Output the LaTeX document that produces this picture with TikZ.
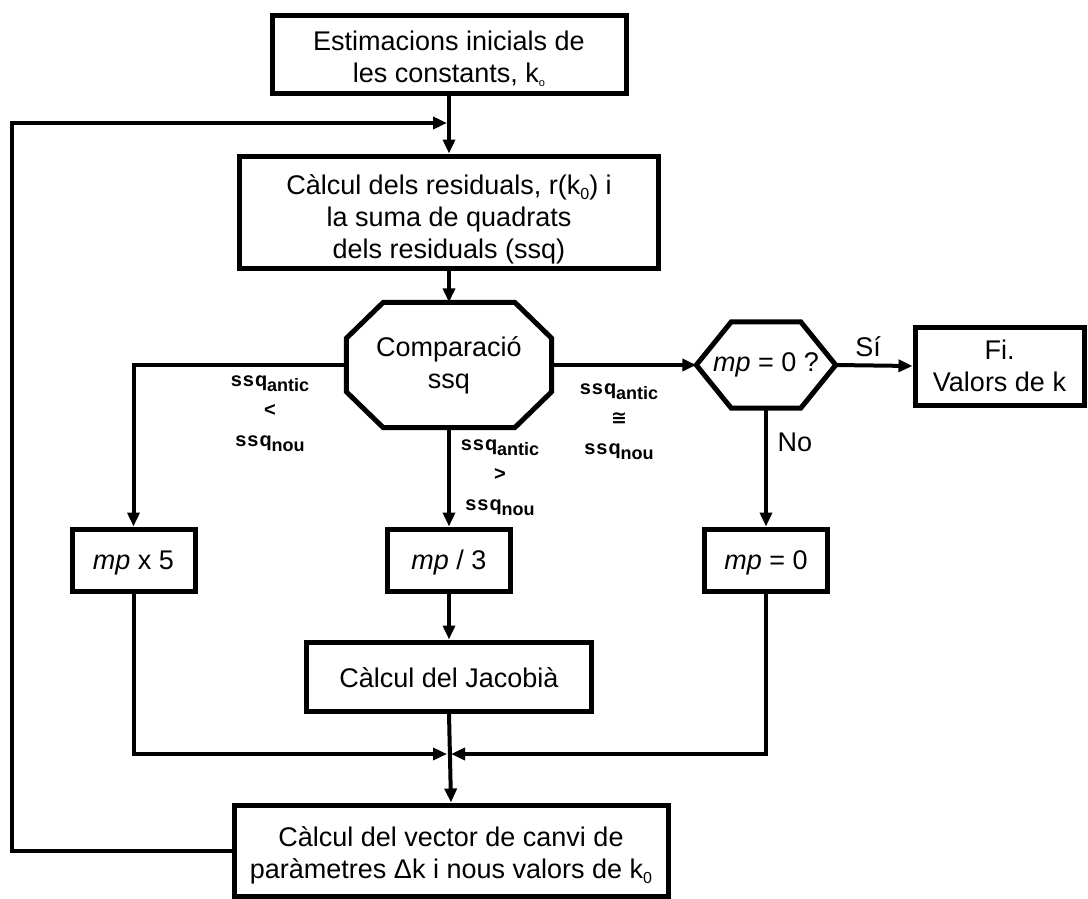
\documentclass[tikz,border=0pt]{standalone}
\usepackage{fontspec}
\setmainfont{Liberation Sans}
\newfontfamily\symfont{DejaVu Sans}
\usetikzlibrary{arrows.meta,calc}

% font sizes
\newcommand\mainfs{\fontsize{27}{32}\selectfont}
\newcommand\labfs{\fontsize{20}{30}\selectfont\bfseries}
% lowered zero index
\newcommand\kzero{k\raisebox{-5pt}{\fontsize{16}{16}\selectfont 0}}
% condition label "ssq" with a lowered index
\newcommand\ssqidx[1]{{\labfs s\kern1pt s\kern1pt q\raisebox{-5pt}{\fontsize{18}{18}\selectfont\bfseries #1}}}

\tikzset{
  box/.style={draw, line width=5pt, inner sep=0pt},
  txt/.style={align=center, inner sep=0pt, font=\mainfs},
  outline/.style={line width=5pt, line join=miter},
  cond/.style={align=center, inner sep=0pt, font=\labfs},
  answer/.style={inner sep=0pt, font=\mainfs},
  arr/.style={line width=4pt, -{Triangle[length=14pt,width=12pt]}},
}

\begin{document}
\begin{tikzpicture}[x=1pt,y=-1pt]
\fill[white] (0,0) rectangle (1088,898);
\useasboundingbox (0,0) rectangle (1088,898);

% process boxes (frames, then their texts)
\node[box, minimum width=354pt, minimum height=78pt] (top) at (449,54) {};
\node[txt] (topT) at ([yshift=-5pt]top.center)
  {Estimacions inicials de\\les constants, k\raisebox{-4pt}{\fontsize{11}{11}\selectfont o}};
\node[box, minimum width=419pt, minimum height=112pt] (sec) at (449,212) {};
\node[txt] (secT) at ([yshift=-7pt]sec.center)
  {Càlcul dels residuals, r(\kzero) i\\la suma de quadrats\\dels residuals (ssq)};

% comparison octagon
\node[txt, minimum width=205pt, minimum height=125pt] (cmp) at (449,365)
  {Comparació\\ssq};
\draw[outline]
  ($(cmp.north west)+(37,0)$) -- ($(cmp.north east)+(-37,0)$)
  -- ($(cmp.north east)+(0,36)$) -- ($(cmp.south east)+(0,-36)$)
  -- ($(cmp.south east)+(-37,0)$) -- ($(cmp.south west)+(37,0)$)
  -- ($(cmp.south west)+(0,-36)$) -- ($(cmp.north west)+(0,36)$) -- cycle;

% decision hexagon
\node[txt, minimum width=139pt, minimum height=86pt] (hex) at (766,365)
  {\textit{mp} = 0 ?};
\draw[outline]
  (hex.west) -- ($(hex.north west)+(35,0)$) -- ($(hex.north east)+(-35,0)$)
  -- (hex.east) -- ($(hex.south east)+(-35,0)$) -- ($(hex.south west)+(35,0)$) -- cycle;

\node[box, minimum width=169pt, minimum height=78pt] (fi) at (999.5,366) {};
\node[txt] (fiT) at (fi.center) {Fi.\\Valors de k};

% step boxes
\node[box, minimum width=123pt, minimum height=62pt] (mp5) at (133.5,560) {};
\node[txt] (mp5T) at ([yshift=-3pt]mp5.center) {\textit{mp} x 5};
\node[box, minimum width=123pt, minimum height=62pt] (mp3) at (449,560) {};
\node[txt] (mp3T) at ([yshift=-3pt]mp3.center) {\textit{mp} / 3};
\node[box, minimum width=123pt, minimum height=62pt] (mp0) at (766,560) {};
\node[txt] (mp0T) at ([yshift=-3pt]mp0.center) {\textit{mp} = 0};
\node[box, minimum width=285pt, minimum height=69pt] (jac) at (449,676.5) {};
\node[txt] (jacT) at ([yshift=-1pt]jac.center) {Càlcul del Jacobià};
\node[box, minimum width=434pt, minimum height=91pt] (bot) at (451,850.5) {};
\node[txt] (botT) at ([yshift=-5pt]bot.center)
  {Càlcul del vector de canvi de\\paràmetres Δk i nous valors de \kzero};

% condition labels
\node[cond] (lless) at (270,414) {\ssqidx{antic}\\<\\\ssqidx{nou}};
\node[cond] (lgreater) at (500,478) {\ssqidx{antic}\\>\\\ssqidx{nou}};
\node[cond] (lequal) at (619,422) {\ssqidx{antic}\\{\symfont\fontsize{19}{19}\selectfont ≅}\\\ssqidx{nou}};
\node[answer] (lyes) at (868,347) {Sí};
\node[answer] (lno) at (795,442) {No};

% junction points
\coordinate (jn) at (449,754);
\coordinate (fbin) at (449,123);
\coordinate (lc) at (12,123);

% connectors
\draw[arr] (top.south) -- (sec.north);
\draw[arr] (sec.south) -- (cmp.north);
\draw[arr] (cmp.west) -| (mp5.north);
\draw[arr] (cmp.south) -- (mp3.north);
\draw[arr] (cmp.east) -- (hex.west);
\draw[arr] (hex.east) -- (fi.west);
\draw[arr] (hex.south) -- (mp0.north);
\draw[arr] (mp3.south) -- (jac.north);
\draw[arr] (jac.south) -- (bot.north);
\draw[arr] (mp5.south) |- ([xshift=-2pt]jn);
\draw[arr] (mp0.south) |- ([xshift=2pt]jn);
\draw[arr] (bot.west) -| (lc) -- ([xshift=-2pt]fbin);
\end{tikzpicture}
\end{document}
